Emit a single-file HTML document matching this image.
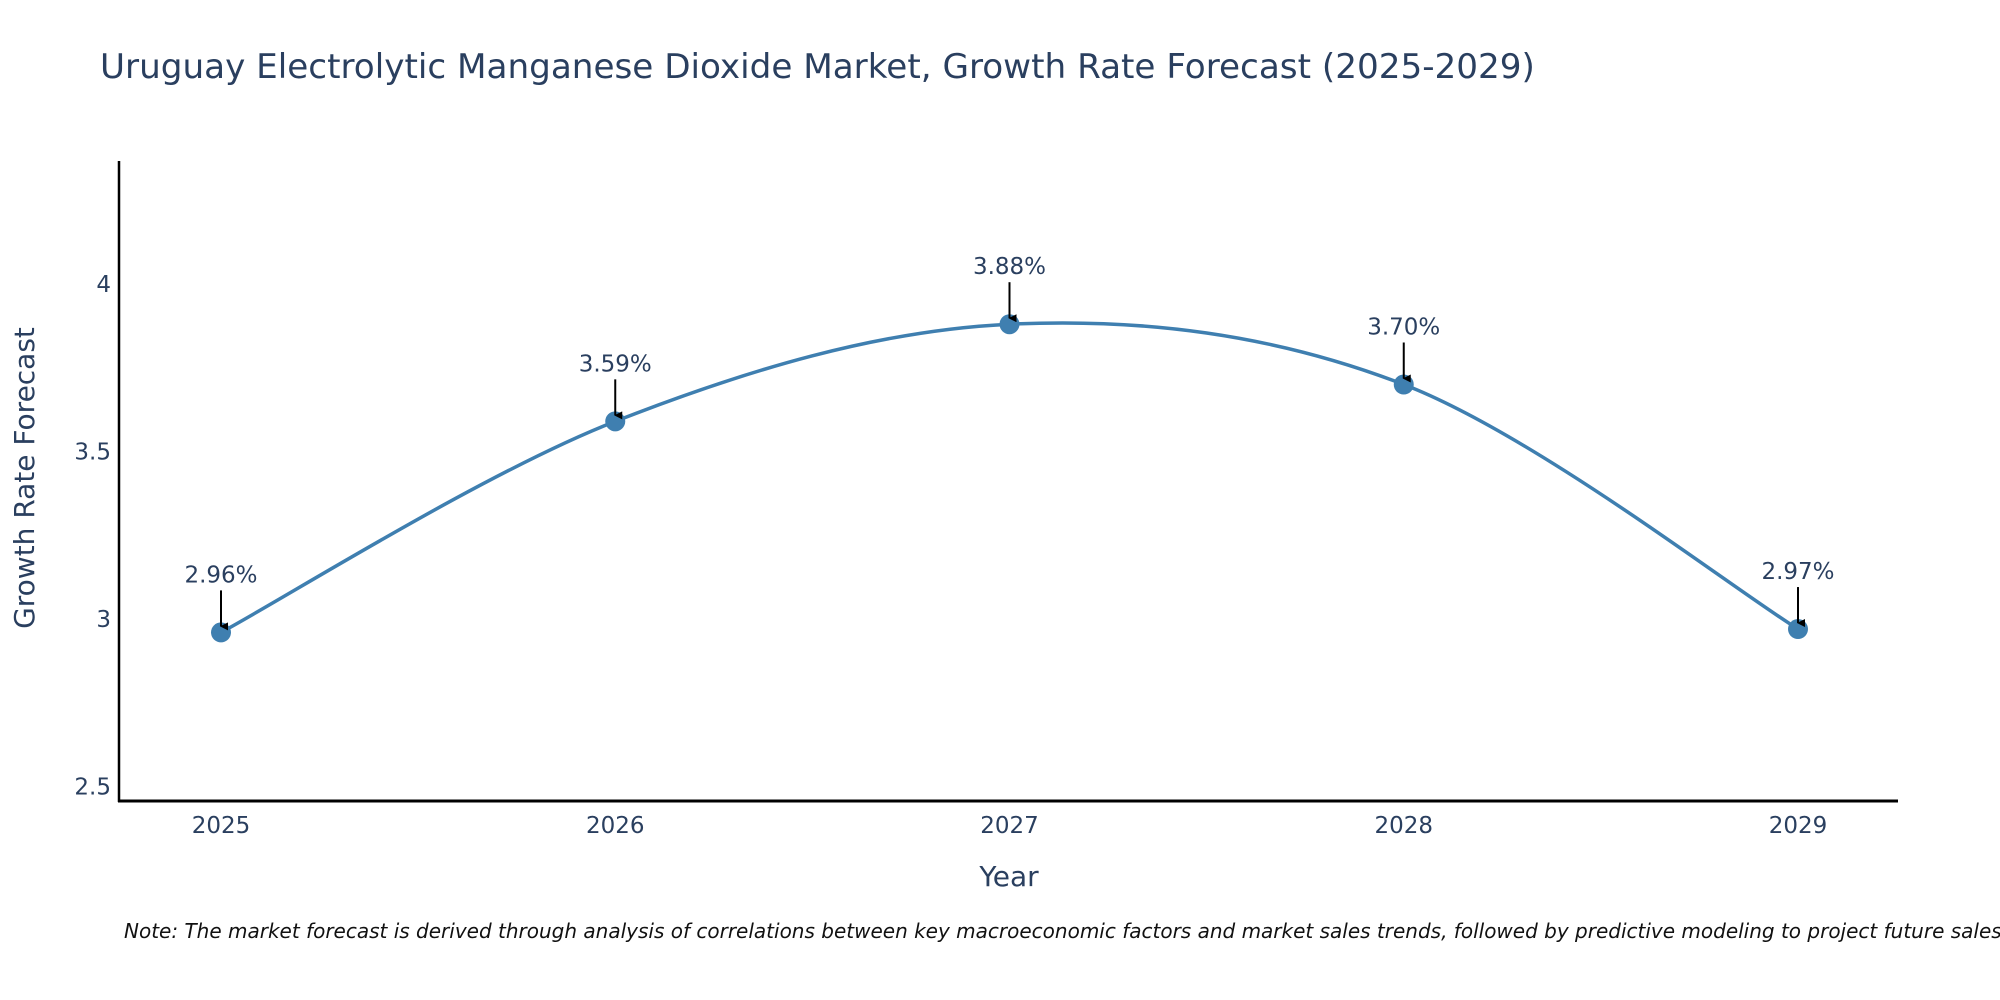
<!DOCTYPE html>
<html><head><meta charset="utf-8"><style>
body{margin:0;background:#fff;}
svg{display:block;font-family:"Liberation Sans","DejaVu Sans",sans-serif;}
</style></head><body>
<svg id="chart" width="2000" height="1000" viewBox="0 0 2000 1000" xmlns="http://www.w3.org/2000/svg">
<defs><marker id="ah" markerWidth="8" markerHeight="8" refX="4" refY="7" orient="auto-start-reverse" markerUnits="userSpaceOnUse" viewBox="0 0 8 8"><path d="M0,0 L8,0 L4,8 Z" fill="#000"/></marker></defs>
<text x="100" y="78" font-size="34.2" fill="#2a3f5f" font-family="DejaVu Sans, sans-serif">Uruguay Electrolytic Manganese Dioxide Market, Growth Rate Forecast (2025-2029)</text>
<g id="plot"></g>
<text x="1009" y="886" font-size="28" fill="#2a3f5f" text-anchor="middle" font-family="DejaVu Sans, sans-serif">Year</text>
<text transform="translate(34,478) rotate(-90)" font-size="28" fill="#2a3f5f" text-anchor="middle" font-family="DejaVu Sans, sans-serif">Growth Rate Forecast</text>
<text x="124" y="938" font-size="20" font-style="italic" fill="#111" font-family="DejaVu Sans, sans-serif">Note: The market forecast is derived through analysis of correlations between key macroeconomic factors and market sales trends, followed by predictive modeling to project future sales.</text>
</svg>
<script>
const categories=["2025","2026","2027","2028","2029"];
const values=[2.96,3.59,3.88,3.70,2.97];
const valueLabels=["2.96%","3.59%","3.88%","3.70%","2.97%"];
const yTicks=[2.5,3,3.5,4];
const yTickLabels=["2.5","3","3.5","4"];
(function(){
const NS="http://www.w3.org/2000/svg";
const g=document.getElementById('plot');
const pLeft=119,pRight=1898,pTop=161,pBottom=801;
const x0=221,dx=394.25;
function xs(i){return x0+i*dx;}
function ys(v){return 619-(v-3)*335;}
function mk(t,a){const e=document.createElementNS(NS,t);for(const k in a)e.setAttribute(k,a[k]);g.appendChild(e);return e;}
let ax=mk('line',{x1:pLeft,y1:pTop,x2:pLeft,y2:pBottom+1,stroke:'#000','stroke-width':2.5});


ax=mk('line',{x1:pLeft-1,y1:pBottom,x2:pRight,y2:pBottom,stroke:'#000','stroke-width':3});


yTicks.forEach((v,i)=>{const t=mk('text',{x:111,y:ys(v)+8,'font-size':23,fill:'#2a3f5f','text-anchor':'end','font-family':'DejaVu Sans, sans-serif'});t.textContent=yTickLabels[i];

});
categories.forEach((c,i)=>{const t=mk('text',{x:xs(i),y:833,'font-size':23,fill:'#2a3f5f','text-anchor':'middle','font-family':'DejaVu Sans, sans-serif'});t.textContent=c;

});
const pts=values.map((v,i)=>[xs(i),ys(v)]);
let d=`M${pts[0][0]},${pts[0][1]}`;
for(let i=0;i<pts.length-1;i++){const p0=pts[i-1]||pts[i],p1=pts[i],p2=pts[i+1],p3=pts[i+2]||p2;const k=6;
d+=` C${p1[0]+(p2[0]-p0[0])/k},${p1[1]+(p2[1]-p0[1])/k} ${p2[0]-(p3[0]-p1[0])/k},${p2[1]-(p3[1]-p1[1])/k} ${p2[0]},${p2[1]}`;}
const line=mk('path',{d:d,fill:'none',stroke:'#3f7fb0','stroke-width':3.5});


pts.forEach((p,i)=>{const c=mk('circle',{cx:p[0],cy:p[1],r:10,fill:'#3f7fb0'});


const a=mk('line',{x1:p[0],y1:p[1]-42,x2:p[0],y2:p[1]-6,stroke:'#000','stroke-width':2,'marker-end':'url(#ah)'});


const t=mk('text',{x:p[0],y:p[1]-50,'font-size':23,fill:'#2a3f5f','text-anchor':'middle','font-family':'DejaVu Sans, sans-serif'});t.textContent=valueLabels[i];

});
})();
</script>
</body></html>
